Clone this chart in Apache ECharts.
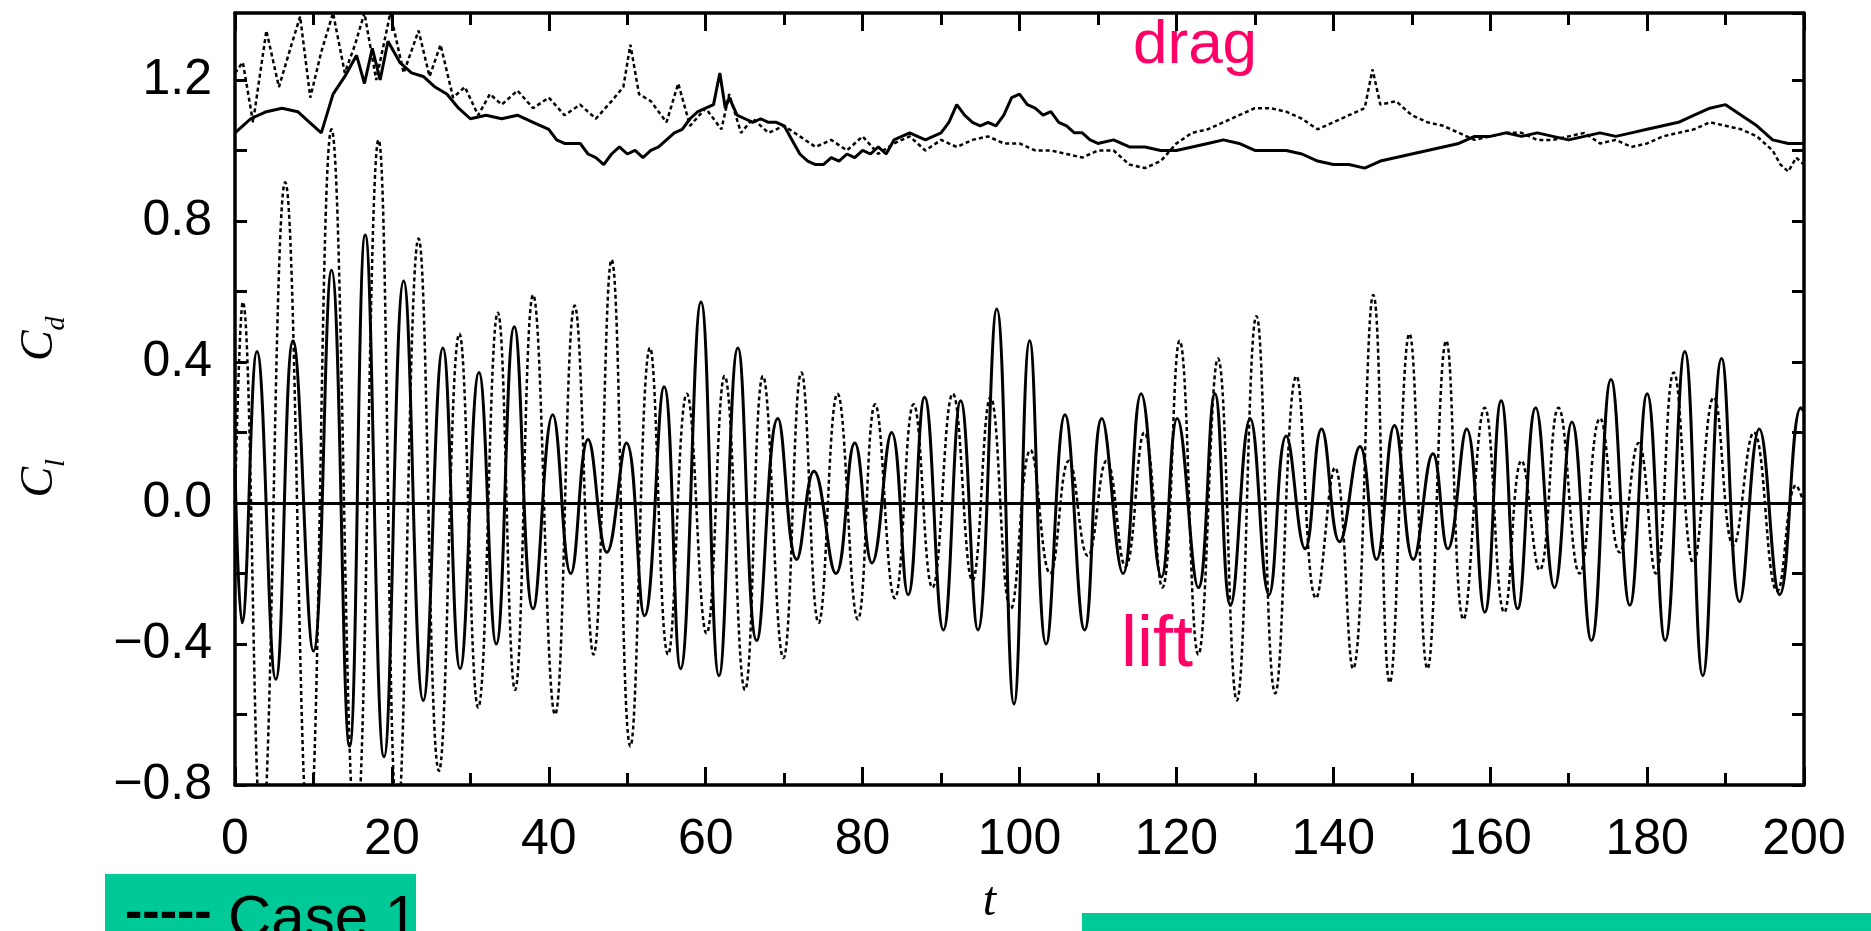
<!DOCTYPE html>
<html>
<head>
<meta charset="utf-8">
<script src="https://cdn.jsdelivr.net/npm/echarts@6/dist/echarts.min.js"></script>
<style>
html,body{margin:0;padding:0;background:#fff;}
#chart{width:1871px;height:931px;}
</style>
</head>
<body>
<div id="chart"></div>
<script>
// ---- data ----
const xTicks = [0, 20, 40, 60, 80, 100, 120, 140, 160, 180, 200];
const yTicks = [-0.8, -0.4, 0.0, 0.4, 0.8, 1.2];

// lift, Case 2 (solid) : times of peaks / troughs and their values
const tLiftSolid = [0,0.9,2.8,5.2,7.4,10.0,12.3,14.6,16.6,19.0,21.5,24.0,26.5,28.7,31.1,33.3,35.6,38.0,40.5,42.8,45.0,47.4,49.9,52.2,54.7,56.8,59.4,61.7,64.1,66.5,69.2,71.6,73.8,76.6,79.0,81.2,83.7,85.8,87.9,90.3,92.5,94.7,97.1,99.3,101.3,103.4,105.8,108.3,110.5,113.2,115.5,118.1,120.1,122.8,124.9,126.9,129.4,131.8,134.0,136.4,138.5,140.8,143.4,145.5,147.8,150.2,152.7,154.6,157.0,159.3,161.4,163.5,165.8,168.2,170.4,172.9,175.4,177.8,180.0,182.3,184.8,187.1,189.5,191.8,194.3,196.9,199.6,200];
const cLiftSolid = [0.10,-0.34,0.43,-0.50,0.46,-0.42,0.66,-0.69,0.76,-0.72,0.63,-0.56,0.44,-0.47,0.37,-0.40,0.50,-0.30,0.25,-0.20,0.18,-0.14,0.17,-0.32,0.33,-0.47,0.57,-0.49,0.44,-0.39,0.24,-0.16,0.09,-0.20,0.17,-0.17,0.20,-0.26,0.30,-0.36,0.29,-0.36,0.55,-0.57,0.46,-0.40,0.25,-0.36,0.24,-0.20,0.31,-0.21,0.24,-0.24,0.31,-0.29,0.24,-0.26,0.19,-0.13,0.21,-0.11,0.16,-0.16,0.22,-0.16,0.14,-0.13,0.21,-0.31,0.29,-0.30,0.27,-0.24,0.23,-0.39,0.35,-0.29,0.31,-0.39,0.43,-0.49,0.41,-0.28,0.21,-0.26,0.27,0.26];

// lift, Case 1 (dashed)
const tLiftDashed = [0,1.0,3.4,6.4,9.4,12.3,15.4,18.3,20.7,23.4,26.0,28.6,31.0,33.5,35.7,38.0,40.8,43.3,45.7,48.0,50.4,52.9,55.2,57.6,60.1,62.4,65.0,67.3,69.9,72.2,74.4,76.8,79.4,81.6,84.1,86.5,88.9,91.5,94.0,96.3,98.9,101.4,103.9,106.3,108.7,111.1,113.5,115.9,118.2,120.4,122.8,125.3,127.7,130.2,132.6,135.3,137.8,140.2,142.5,145.1,147.2,149.7,152.0,154.4,156.6,159.3,161.8,164.0,166.3,168.7,171.4,174.0,176.5,178.9,181.1,183.4,185.9,188.5,191.0,193.6,196.6,199.0,200];
const cLiftDashed = [0.0,0.57,-0.95,0.91,-0.95,1.06,-0.95,1.03,-0.90,0.75,-0.76,0.48,-0.58,0.54,-0.53,0.59,-0.60,0.56,-0.43,0.69,-0.69,0.44,-0.43,0.31,-0.37,0.36,-0.53,0.36,-0.44,0.37,-0.34,0.31,-0.33,0.28,-0.27,0.28,-0.24,0.31,-0.22,0.30,-0.30,0.15,-0.20,0.12,-0.15,0.12,-0.18,0.20,-0.24,0.46,-0.43,0.41,-0.56,0.53,-0.54,0.36,-0.27,0.10,-0.47,0.59,-0.51,0.48,-0.47,0.46,-0.33,0.27,-0.31,0.12,-0.19,0.27,-0.20,0.24,-0.14,0.17,-0.20,0.37,-0.17,0.30,-0.12,0.20,-0.25,0.05,0.0];

// drag, Case 2 (solid)
const tDragSolid = [0,1,2,4,6,8,9.5,11,12.5,14,15.5,16.5,17.5,18.5,19.5,21,22.5,24,25.5,27,28.5,30,32,34,36,38,40,41,42,44,45,46,47,48,49,50,51,52,53,54,55,56,57,58,59,60,61,61.8,62.5,63,64,65,66,67,68,69,70,71,72,73,74,75,76,77,78,79,80,81,82,83,84,85,86,87,88,89,90,91,92,93,94,95,96,97,98,99,100,101,102,103,104,105,106,107,108,109,110,112,114,116,118,120,122,124,126,128,130,132,134,136,138,140,142,144,146,148,150,152,154,156,158,160,162,164,166,168,170,172,174,176,178,180,182,184,186,188,190,192,194,196,198,200];
const cDragSolid = [1.05,1.07,1.09,1.11,1.12,1.11,1.08,1.05,1.16,1.21,1.27,1.19,1.29,1.20,1.31,1.25,1.22,1.21,1.18,1.16,1.12,1.09,1.10,1.09,1.10,1.08,1.06,1.03,1.02,1.02,0.99,0.98,0.96,0.99,1.01,0.99,1.00,0.98,1.00,1.01,1.03,1.05,1.06,1.09,1.11,1.12,1.13,1.22,1.12,1.15,1.10,1.09,1.08,1.09,1.08,1.08,1.07,1.03,0.99,0.97,0.96,0.96,0.98,0.97,0.99,0.98,1.00,0.99,1.01,0.99,1.03,1.04,1.05,1.04,1.03,1.04,1.05,1.08,1.13,1.10,1.08,1.07,1.08,1.07,1.10,1.15,1.16,1.13,1.12,1.10,1.11,1.08,1.07,1.05,1.05,1.03,1.02,1.03,1.01,1.01,1.00,1.00,1.01,1.02,1.03,1.02,1.00,1.00,1.00,0.99,0.97,0.96,0.96,0.95,0.97,0.98,0.99,1.00,1.01,1.02,1.04,1.04,1.05,1.04,1.05,1.04,1.03,1.04,1.05,1.04,1.05,1.06,1.07,1.08,1.10,1.12,1.13,1.10,1.07,1.03,1.02,1.02];

// drag, Case 1 (dashed)
const tDragDashed = [0,1.0,2.3,4.0,5.6,7.2,8.3,9.6,11.0,12.5,14.0,15.3,16.5,18.0,19.8,21.5,23.4,24.8,26.2,27.8,29.3,31.0,32.5,34,36,38,40,42,44,46,48,49.5,50.4,51.5,53,55,56.5,58,60,62,63,64.5,66,68,70,72,74,76,78,80,82,84,86,88,90,92,94,96,98,100,102,104,106,108,110,112,114,116,118,120,122,124,126,128,130,132,134,136,138,140,142,144,145,146,148,150,152,154,156,158,160,162,164,166,168,170,172,174,176,178,180,182,184,186,188,190,192,194,196,197,198,199,200];
const cDragDashed = [1.22,1.25,1.08,1.34,1.18,1.30,1.38,1.15,1.28,1.39,1.22,1.30,1.39,1.20,1.39,1.22,1.34,1.21,1.30,1.15,1.18,1.10,1.16,1.13,1.17,1.12,1.15,1.10,1.13,1.09,1.14,1.18,1.30,1.16,1.14,1.08,1.19,1.07,1.12,1.06,1.16,1.05,1.09,1.05,1.07,1.04,1.01,1.03,1.00,1.04,0.99,1.02,1.04,1.00,1.03,1.01,1.03,1.04,1.02,1.02,1.00,1.00,0.99,0.98,1.00,1.00,0.96,0.95,0.97,1.02,1.05,1.06,1.08,1.10,1.12,1.12,1.11,1.09,1.06,1.08,1.10,1.12,1.23,1.13,1.14,1.10,1.08,1.07,1.05,1.03,1.04,1.05,1.05,1.03,1.03,1.04,1.05,1.02,1.03,1.01,1.02,1.04,1.05,1.06,1.08,1.07,1.06,1.04,1.00,0.96,0.94,0.98,0.96];

const pairs = (ts, cs) => ts.map((t, i) => [t, cs[i]]);

// ---- chart ----
const chart = echarts.init(document.getElementById('chart'), null, {renderer: 'canvas'});
const black = '#000';
const labelFont = 'Liberation Sans';

function fmtY(v) {
  const k = Math.round(v / 0.2);
  if (Math.abs(v - k * 0.2) > 1e-6 || k % 2 !== 0) return '';
  const s = Math.abs(v).toFixed(1);
  return (v < -1e-9 ? '\u2212' : '') + s;
}
function fmtX(v) {
  return xTicks.indexOf(v) >= 0 ? String(v) : '';
}

const tickCommon = {inside: true, lineStyle: {color: black, width: 3}};

const option = {
  animation: false,
  backgroundColor: '#fff',
  grid: {left: 235, right: 67, top: 13, bottom: 135, containLabel: false},
  xAxis: [
    {
      type: 'value', min: 0, max: 200, interval: 20, position: 'bottom',
      axisLine: {show: true, onZero: false, lineStyle: {color: black, width: 3.5}},
      axisTick: Object.assign({length: 18}, tickCommon),
      minorTick: {show: true, splitNumber: 2, length: 12, lineStyle: {color: black, width: 3}},
      splitLine: {show: false},
      axisLabel: {formatter: fmtX, margin: 30, fontSize: 50, color: black, fontFamily: labelFont},
      name: 't', nameLocation: 'middle', nameGap: 93,
      nameTextStyle: {fontFamily: 'Liberation Serif', fontStyle: 'italic', fontSize: 48, color: black, padding: [0, 60, 0, 0]}
    },
    {
      type: 'value', min: 0, max: 200, interval: 20, position: 'top',
      axisLine: {show: true, onZero: false, lineStyle: {color: black, width: 3.5}},
      axisTick: Object.assign({length: 18}, tickCommon),
      minorTick: {show: true, splitNumber: 2, length: 12, lineStyle: {color: black, width: 3}},
      splitLine: {show: false},
      axisLabel: {show: false}
    }
  ],
  yAxis: [
    {
      type: 'value', min: -0.8, max: 1.39, interval: 0.2, position: 'left',
      axisLine: {show: true, onZero: false, lineStyle: {color: black, width: 3.5}},
      axisTick: Object.assign({length: 12}, tickCommon),
      splitLine: {show: false},
      axisLabel: {formatter: fmtY, showMaxLabel: false, margin: 23, fontSize: 50, color: black, fontFamily: labelFont},
      name: '{c|C}{s|l}{g| }{c|C}{s|d}',
      nameLocation: 'middle', nameGap: 164, nameRotate: 90,
      nameTextStyle: {
        color: black,
        padding: [0, 16, 0, 0],
        rich: {
          c: {fontFamily: 'Liberation Serif', fontStyle: 'italic', fontSize: 46, lineHeight: 62, color: black},
          s: {fontFamily: 'Liberation Serif', fontStyle: 'italic', fontSize: 28, lineHeight: 22, verticalAlign: 'bottom', color: black},
          g: {fontSize: 20, width: 98}
        }
      }
    },
    {
      type: 'value', min: -0.8, max: 1.39, interval: 0.2, position: 'right',
      axisLine: {show: true, onZero: false, lineStyle: {color: black, width: 3.5}},
      axisTick: Object.assign({length: 12}, tickCommon),
      splitLine: {show: false},
      axisLabel: {show: false}
    }
  ],
  series: [
    {
      name: 'lift Case 2', type: 'line', xAxisIndex: 0, yAxisIndex: 0,
      data: pairs(tLiftSolid, cLiftSolid), showSymbol: false, smooth: 0.45,
      lineStyle: {color: black, width: 3, type: 'solid'},
      markLine: {
        silent: true, symbol: 'none', label: {show: false},
        lineStyle: {color: black, width: 3, type: 'solid'},
        data: [{yAxis: 0}]
      }
    },
    {
      name: 'lift Case 1', type: 'line', xAxisIndex: 0, yAxisIndex: 0,
      data: pairs(tLiftDashed, cLiftDashed), showSymbol: false, smooth: 0.45,
      lineStyle: {color: black, width: 2.5, type: [4, 3]}
    },
    {
      name: 'drag Case 2', type: 'line', xAxisIndex: 0, yAxisIndex: 0,
      data: pairs(tDragSolid, cDragSolid), showSymbol: false,
      lineStyle: {color: black, width: 3, type: 'solid'}
    },
    {
      name: 'drag Case 1', type: 'line', xAxisIndex: 0, yAxisIndex: 0,
      data: pairs(tDragDashed, cDragDashed), showSymbol: false,
      lineStyle: {color: black, width: 2.5, type: [4, 3]}
    }
  ],
  graphic: [
    {type: 'text', left: 1133, top: 15, z: 100,
     style: {text: 'drag', fill: '#ff0066', font: '62px "Liberation Sans"'}},
    {type: 'text', left: 1121, top: 610, z: 100,
     style: {text: 'lift', fill: '#ff0066', font: '72px "Liberation Sans"'}},
    {type: 'rect', left: 105, top: 874, z: 100,
     shape: {width: 311, height: 60}, style: {fill: '#00c998'}},
    {type: 'text', left: 125, top: 888, z: 101,
     style: {text: '-----', fill: '#000', font: 'bold 52px "Liberation Sans"'}},
    {type: 'text', left: 228, top: 890, z: 101,
     style: {text: 'Case 1', fill: '#000', font: '60px "Liberation Sans"'}},
    {type: 'rect', left: 1082, top: 913, z: 100,
     shape: {width: 789, height: 20}, style: {fill: '#00c998'}}
  ]
};
chart.setOption(option);
</script>
</body>
</html>
